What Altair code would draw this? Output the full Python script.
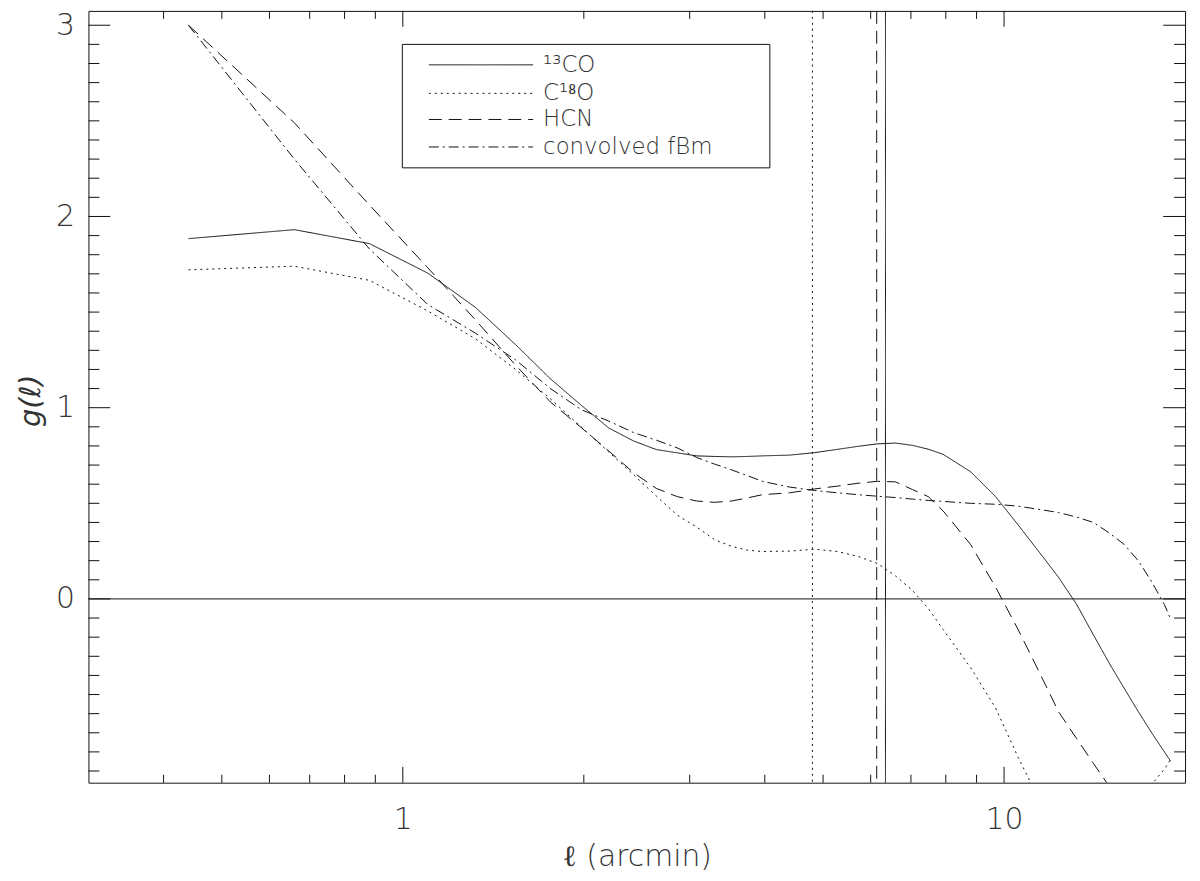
import altair as alt
import pandas as pd

# ---------------- data ----------------
LAG = [0.44, 0.66, 0.88, 1.10, 1.32, 1.54, 1.76, 1.98, 2.20, 2.42, 2.64, 2.86,
       3.08, 3.30, 3.52, 3.74, 3.96, 4.40, 4.84, 5.28, 5.72, 6.16, 6.60, 7.04,
       7.48, 7.92, 8.80, 9.68, 10.56, 11.44, 12.32, 13.20, 14.08, 14.96, 15.84,
       16.72, 17.60, 18.48, 18.92]

G_13CO = [1.884, 1.931, 1.858, 1.704, 1.525, 1.33, 1.151, 1.013, 0.894, 0.826,
          0.781, 0.764, 0.748, 0.745, 0.743, 0.745, 0.748, 0.752, 0.765, 0.782,
          0.798, 0.811, 0.815, 0.803, 0.783, 0.756, 0.665, 0.535, 0.386, 0.245,
          0.113, -0.028, -0.188, -0.336, -0.467, -0.589, -0.70, -0.80, -0.848]

G_C18O = [1.721, 1.740, 1.666, 1.506, 1.361, 1.20, 1.046, 0.899, 0.769, 0.649,
          0.538, 0.438, 0.376, 0.31, 0.275, 0.255, 0.248, 0.25, 0.26, 0.248,
          0.222, 0.185, 0.12, 0.045, -0.05, -0.16, -0.36, -0.57, -0.83, -1.05,
          -1.2, -1.28, -1.3, -1.25, -1.15, -1.05, -0.97, -0.89, -0.84]

G_HCN = [3.0, 2.49, 2.06, 1.732, 1.46, 1.222, 1.03, 0.896, 0.774, 0.66,
         0.578, 0.535, 0.512, 0.505, 0.512, 0.528, 0.545, 0.555, 0.575, 0.59,
         0.605, 0.615, 0.612, 0.572, 0.535, 0.46, 0.284, 0.062, -0.162, -0.382,
         -0.59, -0.73, -0.86, -0.98, -1.08, -1.12, -1.12, -1.1, -1.08]

G_FBM = [3.0, 2.30, 1.83, 1.54, 1.39, 1.25, 1.10, 0.99, 0.93, 0.87,
         0.83, 0.79, 0.74, 0.705, 0.675, 0.645, 0.615, 0.585, 0.567, 0.555,
         0.545, 0.537, 0.530, 0.522, 0.515, 0.51, 0.50, 0.495, 0.485, 0.468,
         0.452, 0.428, 0.40, 0.345, 0.285, 0.20, 0.09, -0.03, -0.104]

SERIES = ["13CO", "C18O", "HCN", "convolved fBm"]
LEGEND_LABELS = ["¹³CO", "C¹⁸O", "HCN", "convolved fBm"]

# characteristic scales marked by vertical lines
VLINE_L = [4.80, 6.14, 6.35]
VLINE_SERIES = ["C18O", "HCN", "13CO"]

ZERO_LEVEL = [0.0]

Y_MAJOR = [0, 1, 2, 3]
Y_MINOR = [v / 10 for v in range(-9, 31) if v % 10 != 0]
X_MAJOR = [1, 10]
X_MINOR = [0.4, 0.5, 0.6, 0.7, 0.8, 0.9, 2, 3, 4, 5, 6, 7, 8, 9]

# ---------------- tables ----------------
rows = []
for name, vals in zip(SERIES, [G_13CO, G_C18O, G_HCN, G_FBM]):
    for l, g in zip(LAG, vals):
        rows.append({"l": l, "g": g, "series": name})
df = pd.DataFrame(rows)
vlines = pd.DataFrame({"l": VLINE_L, "series": VLINE_SERIES})
zero_df = pd.DataFrame({"g": ZERO_LEVEL})
ymaj = pd.DataFrame({"g": Y_MAJOR})
ymin = pd.DataFrame({"g": Y_MINOR})
xmaj = pd.DataFrame({"l": X_MAJOR})
xmin = pd.DataFrame({"l": X_MINOR})

W, H = 1104, 777
FONT = "DejaVu Sans"
INK = "#111111"
TXT = "#333333"

xscale = alt.Scale(type="log", domain=[0.3, 20], nice=False)
yscale = alt.Scale(domain=[-0.961, 3.075], nice=False, zero=False)
dash_scale = alt.Scale(domain=SERIES, range=[[1, 0], [2, 4], [13, 7], [10, 4, 2, 4]])

X_AXIS = alt.Axis(values=X_MAJOR, format="~g", ticks=False, domain=False, grid=False,
                  labelFontSize=30, labelPadding=22, labelFont=FONT, labelColor=TXT,
                  labelFontWeight=200,
                  title="ℓ (arcmin)", titleFontSize=30, titleFont=FONT, titleFontWeight=200,
                  titleColor=TXT, titleY=83, titleBaseline="alphabetic")
Y_AXIS = alt.Axis(values=Y_MAJOR, format="d", ticks=False, domain=False, grid=False,
                  labelFontSize=30, labelPadding=14, labelFont=FONT, labelColor=TXT,
                  labelFontWeight=200,
                  title="g(ℓ)", titleFontSize=29, titleFont=FONT, titleFontStyle="italic",
                  titleFontWeight=200, titleColor=TXT,
                  titleAngle=-90, titleX=-58, titleY=392, titleAlign="center",
                  titleBaseline="middle")

def X(field="l:Q"):
    return alt.X(field, scale=xscale, axis=X_AXIS)

def Y(field="g:Q"):
    return alt.Y(field, scale=yscale, axis=Y_AXIS)

curves = alt.Chart(df).mark_line(clip=True, color=INK, strokeWidth=1).encode(
    x=X(), y=Y(),
    strokeDash=alt.StrokeDash("series:N", scale=dash_scale, legend=None),
    detail="series:N",
    order="l:Q",
)

vrules = alt.Chart(vlines).mark_rule(color=INK, strokeWidth=1).encode(
    x=X(),
    strokeDash=alt.StrokeDash("series:N", scale=dash_scale, legend=None),
)

zero_rule = alt.Chart(zero_df).mark_rule(color=INK, strokeWidth=1).encode(y=Y())

def ytick(data, x0, x1):
    return alt.Chart(data).mark_rule(color=INK, strokeWidth=1).encode(
        y=Y(), x=alt.value(x0), x2=alt.value(x1))

def xtick(data, y0, y1):
    return alt.Chart(data).mark_rule(color=INK, strokeWidth=1).encode(
        x=X(), y=alt.value(y0), y2=alt.value(y1))

ticks = [
    ytick(ymaj, 0, 22), ytick(ymin, 0, 11),
    ytick(ymaj, W - 22, W), ytick(ymin, W - 11, W),
    xtick(xmaj, H, H - 16), xtick(xmin, H, H - 8),
    xtick(xmaj, 0, 16), xtick(xmin, 0, 8),
]

# ---------------- legend (drawn inside the plot) ----------------
one = pd.DataFrame({"k": [0]})
LX0, LX1, LY0, LY1 = 316, 686, 33.7, 158
ROW_Y = [54.3, 83.0, 109.3, 137.0]
SYM_X0, SYM_X1, TXT_X = 342.7, 447.7, 457.7
DASHES = [[1, 0], [2, 4], [13, 7], [10, 4, 2, 4]]

legend_layers = [
    alt.Chart(one).mark_rect(fill="white", stroke=INK, strokeWidth=1).encode(
        x=alt.value(LX0), x2=alt.value(LX1), y=alt.value(LY0), y2=alt.value(LY1))
]
for lab, yy, dsh in zip(LEGEND_LABELS, ROW_Y, DASHES):
    legend_layers.append(
        alt.Chart(one).mark_rule(color=INK, strokeWidth=1, strokeDash=dsh).encode(
            x=alt.value(SYM_X0), x2=alt.value(SYM_X1), y=alt.value(yy)))
    legend_layers.append(
        alt.Chart(pd.DataFrame({"t": [lab]})).mark_text(
            align="left", baseline="middle", fontSize=23, font=FONT, fontWeight=200,
            color=TXT).encode(
            x=alt.value(TXT_X), y=alt.value(yy), text="t:N"))

chart = alt.layer(curves, vrules, zero_rule, *ticks, *legend_layers).properties(
    width=W, height=H,
    autosize=alt.AutoSizeParams(type="none"),
    padding={"left": 81, "top": 0, "right": 7, "bottom": 88},
    background="white",
).configure_view(stroke=INK, strokeWidth=1)

chart.save("out.html", embed_options={"renderer": "svg", "actions": False})
